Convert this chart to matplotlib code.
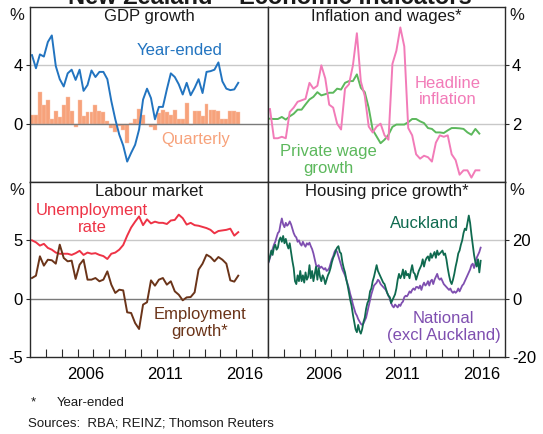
import numpy as np
import pandas as pd
import matplotlib
matplotlib.use('Agg')
import matplotlib.pyplot as plt

plt.rcParams['font.family'] = ['Liberation Sans', 'DejaVu Sans']

# gdp growth, quarterly 2003Q1 - 2016Q1
gdp_quarters = pd.period_range('2003Q1', '2016Q1', freq='Q')
gdp_year_ended = [4.7, 3.8, 4.75, 4.6, 5.6, 6.05, 3.95, 3.05, 2.55, 3.45,
                  3.7, 3.0, 3.7, 2.25, 2.65, 3.65, 3.2, 3.55, 3.55, 3.05,
                  1.55, 0.3, -0.75, -1.5, -2.6, -2.0, -1.45, -0.4, 1.65, 2.4,
                  1.75, 0.3, 1.15, 1.15, 2.35, 3.45, 3.2, 2.7, 2.0, 2.8,
                  1.95, 2.45, 3.05, 2.1, 3.55, 3.6, 3.7, 4.2, 2.9, 2.4,
                  2.3, 2.35, 2.8]
gdp_quarterly = [0.6, 0.6, 2.15, 1.25, 1.6, 0.35, 0.9, 0.45, 1.25, 1.8,
                 0.85, -0.25, 1.6, 0.5, 0.8, 0.8, 1.25, 0.85, 0.8, 0.2,
                 -0.3, -0.6, -0.15, -0.4, -1.3, 0.05, 0.35, 1.0, 0.6, -0.05,
                 -0.25, -0.4, 0.75, 0.95, 0.8, 0.6, 0.95, 0.3, 0.35, 1.4,
                 -0.1, 0.85, 0.85, 0.5, 1.35, 0.95, 0.95, 0.9, 0.3, 0.35,
                 0.9, 0.85, 0.8]

# inflation and wages, year-ended, 2003Q1 - 2016Q2
infl_quarters = pd.period_range('2003Q1', '2016Q2', freq='Q')
headline_inflation = [2.5, 1.5, 1.5, 1.55, 1.5, 2.4, 2.55, 2.75, 2.8, 2.85,
                      3.4, 3.2, 3.3, 4.0, 3.55, 2.65, 2.55, 2.0, 1.8, 3.2,
                      3.35, 4.0, 5.1, 3.45, 2.95, 1.9, 1.7, 1.9, 2.0, 1.6,
                      1.45, 4.05, 4.5, 5.3, 4.65, 1.85, 1.6, 0.95, 0.8, 0.9,
                      0.85, 0.7, 1.35, 1.6, 1.55, 1.6, 0.95, 0.75, 0.25, 0.4,
                      0.4, 0.15, 0.4, 0.4]
private_wages = [2.17, 2.16, 2.16, 2.23, 2.14, 2.25, 2.34, 2.48, 2.48, 2.66,
                 2.83, 2.92, 3.08, 2.97, 3.01, 3.06, 3.06, 3.2, 3.17, 3.4,
                 3.46, 3.46, 3.69, 3.23, 3.08, 2.54, 1.79, 1.56, 1.33, 1.45,
                 1.62, 1.89, 1.97, 1.97, 1.97, 2.05, 2.16, 2.16, 2.08, 2.02,
                 1.85, 1.82, 1.7, 1.7, 1.68, 1.77, 1.85, 1.85, 1.84, 1.82,
                 1.7, 1.62, 1.82, 1.66]

# labour market, 2003Q1 - 2016Q1
lab_quarters = pd.period_range('2003Q1', '2016Q1', freq='Q')
unemployment = [5.0, 4.83, 4.55, 4.7, 4.35, 4.2, 3.95, 3.85, 3.85, 3.85,
                3.75, 3.9, 4.1, 3.75, 3.95, 3.85, 3.9, 3.75, 3.65, 3.4,
                3.85, 3.95, 4.2, 4.6, 5.4, 6.1, 6.6, 7.05, 6.3, 6.8,
                6.45, 6.6, 6.5, 6.5, 6.4, 6.7, 6.75, 7.2, 6.9, 6.35,
                6.5, 6.3, 6.25, 6.15, 6.05, 5.9, 5.6, 5.8, 5.85, 5.9,
                6.0, 5.4, 5.7]
employment_growth = [1.77, 1.97, 3.63, 2.83, 3.34, 3.29, 3.0, 4.63, 3.49, 3.2,
                     3.26, 1.69, 2.91, 3.34, 1.63, 1.63, 1.77, 1.49, 1.63, 2.34,
                     1.2, 0.49, 0.77, 0.71, -1.17, -1.23, -2.09, -2.6, -0.51, -0.31,
                     1.57, 1.11, 1.63, 1.77, 1.2, 1.49, 0.63, 0.34, -0.14, 0.11,
                     0.14, 0.54, 2.49, 3.0, 3.77, 3.57, 3.2, 3.57, 3.34, 3.0,
                     1.57, 1.46, 1.97]

# housing price growth, year-ended, monthly Jan 2003 - Jun 2016
house_months = pd.period_range('2003-01', '2016-06', freq='M')
auckland = [12.8, 14.5, 16.5, 15.0, 17.5, 18.5, 16.8, 17.5, 20.0, 21.0,
            19.5, 21.5, 19.0, 20.5, 18.5, 17.2, 19.0, 16.0, 13.0, 10.5,
            6.0, 5.0, 8.0, 6.0, 9.5, 6.0, 8.0, 5.5, 9.0, 6.5,
            7.5, 11.5, 7.0, 9.5, 6.0, 8.5, 11.0, 6.5, 10.5, 7.5,
            6.0, 8.0, 7.0, 5.0, 6.5, 8.0, 9.0, 10.5, 12.5, 14.0,
            15.0, 16.5, 17.5, 18.0, 16.0, 15.5, 12.5, 10.5, 9.0, 6.5,
            4.5, 2.0, -0.5, -2.5, -5.5, -8.0, -10.5, -11.5, -9.0, -11.0,
            -12.0, -10.5, -8.0, -6.5, -3.5, -1.5, -0.5, 2.5, 3.5, 6.0,
            7.5, 9.5, 11.5, 9.5, 8.5, 7.5, 6.5, 5.5, 5.0, 3.5,
            2.0, 1.0, 0.5, -1.5, -0.5, 0.5, 1.5, 3.5, 6.5, 8.5,
            7.0, 8.0, 10.0, 7.0, 9.5, 8.0, 8.5, 7.0, 9.5, 11.5,
            9.0, 8.5, 6.5, 8.0, 9.5, 10.5, 11.5, 13.5, 11.0, 13.0,
            14.0, 14.5, 13.0, 15.5, 14.0, 15.0, 16.0, 14.0, 16.5, 15.0,
            15.5, 16.0, 16.5, 15.0, 15.5, 13.5, 10.5, 8.0, 6.0, 5.0,
            6.5, 8.5, 11.0, 13.0, 15.5, 16.5, 18.5, 20.0, 22.5, 24.0,
            23.5, 26.0, 28.5, 26.0, 22.0, 18.5, 15.0, 12.5, 11.0, 13.5,
            9.0, 13.0]
national_ex_akl = [12.5, 14.0, 15.5, 17.0, 18.5, 19.5, 21.0, 22.5, 23.0, 25.5,
                   27.5, 25.5, 24.5, 26.0, 25.0, 25.5, 26.5, 25.5, 24.0, 22.5,
                   21.5, 21.0, 19.5, 20.0, 18.8, 18.2, 19.5, 18.5, 17.8, 19.0,
                   18.5, 19.2, 18.0, 17.0, 15.5, 13.5, 11.5, 11.0, 11.5, 10.5,
                   11.0, 10.5, 10.0, 10.5, 9.5, 9.8, 10.5, 12.0, 13.5, 14.5,
                   16.0, 16.8, 16.0, 14.5, 13.0, 11.5, 10.0, 9.0, 8.0, 6.5,
                   5.0, 3.5, 1.5, 0.0, -2.0, -3.5, -5.0, -5.8, -7.0, -7.8,
                   -8.6, -9.0, -8.5, -7.5, -6.5, -4.5, -2.5, -0.5, 1.5, 3.0,
                   4.5, 5.0, 5.5, 6.5, 6.0, 5.0, 4.5, 4.0, 3.5, 3.0,
                   2.0, 1.0, 0.0, -1.5, -2.5, -3.0, -2.0, -2.5, -3.0, -2.0,
                   -2.5, -1.5, -1.0, 0.5, 1.0, 0.8, 1.5, 2.5, 2.0, 3.0,
                   3.5, 3.0, 4.0, 4.0, 3.5, 4.5, 3.0, 4.5, 5.5, 4.5,
                   5.0, 6.0, 4.5, 6.0, 6.5, 5.0, 6.5, 7.5, 8.5, 7.0,
                   6.5, 7.0, 6.0, 5.0, 4.5, 4.0, 3.5, 3.0, 3.5, 2.5,
                   2.0, 2.5, 2.0, 2.5, 3.5, 2.5, 3.5, 4.5, 5.0, 6.0,
                   7.0, 8.0, 9.0, 10.0, 11.5, 12.0, 10.5, 12.0, 14.0, 15.0,
                   16.0, 17.5]


def qtr_to_year(periods):
    return periods.year + (periods.quarter - 0.5) / 4


def month_to_year(periods):
    return periods.year + (periods.month - 0.5) / 12


W, H = 543, 434
fig = plt.figure(figsize=(W / 100, H / 100), dpi=100)


def px_axes(x0, y0, x1, y1):
    # axes from pixel box (top-left origin)
    return fig.add_axes([x0 / W, 1 - y1 / H, (x1 - x0) / W, (y1 - y0) / H])


ax_gdp = px_axes(30, 7, 268, 182)
ax_inf = px_axes(268, 7, 505, 182)
ax_lab = px_axes(30, 182, 268, 357)
ax_hou = px_axes(268, 182, 505, 357)

FS = 12
grid_light = '#c8c8c8'
grid_zero = '#7a7a7a'
frame = '#2a2a2a'


def style_panel(ax, ylim, gridlines, labelled, side, bottom, title):
    ax.set_xlim(2003, 2018)
    ax.set_ylim(*ylim)
    for s in ax.spines.values():
        s.set_color(frame)
        s.set_linewidth(1.0)
        s.set_zorder(5)
    for g in gridlines:
        ax.axhline(g, color=grid_zero if g == 0 else grid_light, lw=1.0,
                   zorder=2 if g == 0 else 0.5)
    ax.set_yticks(labelled)
    ax.set_yticklabels([str(v) for v in labelled])
    if side == 'right':
        ax.yaxis.tick_right()
    ax.tick_params(axis='y', length=3, width=0.8, color=frame, pad=2, labelsize=FS)
    if bottom:
        ax.set_xticks(range(2004, 2018))
        ax.set_xticklabels([])
        ax.set_xticks([2006.5, 2011.5, 2016.5], minor=True)
        ax.set_xticklabels(['2006', '2011', '2016'], minor=True)
        ax.tick_params(axis='x', which='major', direction='in', length=6,
                       width=0.8, color=frame)
        ax.tick_params(axis='x', which='minor', length=0, pad=7, labelsize=FS)
    else:
        ax.set_xticks([])
    ax.text(0.5, 0.943, title, transform=ax.transAxes, ha='center', va='center',
            fontsize=FS, color='#1a1a1a', zorder=6)


# gdp panel
gx = qtr_to_year(gdp_quarters)
ax_gdp.bar(gx, gdp_quarterly, width=0.25, color='#f7a27b', edgecolor='#fbc7ae',
           linewidth=0.3, zorder=1)
ax_gdp.plot(gx, gdp_year_ended, color='#2274c0', lw=1.4, zorder=3)
style_panel(ax_gdp, (-4, 8), [0, 4], [0, 4], 'left', False, 'GDP growth')
ax_gdp.text(2012.45, 5.05, 'Year-ended', color='#2274c0', ha='center', va='center', fontsize=FS)
ax_gdp.text(2013.45, -1.1, 'Quarterly', color='#f7a27b', ha='center', va='center', fontsize=FS)

# inflation panel
ix = qtr_to_year(infl_quarters)
ax_inf.plot(ix, private_wages, color='#5cb85c', lw=1.4, zorder=3)
ax_inf.plot(ix, headline_inflation, color='#f27bb8', lw=1.4, zorder=3)
style_panel(ax_inf, (0, 6), [2, 4], [2, 4], 'right', False, 'Inflation and wages*')
ax_inf.text(2014.4, 3.1, 'Headline\ninflation', color='#f27bb8', ha='center', va='center',
            fontsize=FS, linespacing=1.15)
ax_inf.text(2006.8, 0.75, 'Private wage\ngrowth', color='#5cb85c', ha='center', va='center',
            fontsize=FS, linespacing=1.15)

# labour market panel
lx = qtr_to_year(lab_quarters)
ax_lab.plot(lx, unemployment, color='#ee3346', lw=1.4, zorder=3)
ax_lab.plot(lx, employment_growth, color='#6b3419', lw=1.4, zorder=3)
style_panel(ax_lab, (-5, 10), [0, 5], [-5, 0, 5], 'left', True, 'Labour market')
ax_lab.text(2006.9, 6.85, 'Unemployment\nrate', color='#ee3346', ha='center', va='center',
            fontsize=FS, linespacing=1.15)
ax_lab.text(2013.7, -2.1, 'Employment\ngrowth*', color='#6b3419', ha='center', va='center',
            fontsize=FS, linespacing=1.15)

# housing panel
hx = month_to_year(house_months)
ax_hou.plot(hx, national_ex_akl, color='#7f4fb0', lw=1.3, zorder=3)
ax_hou.plot(hx, auckland, color='#0f6a4f', lw=1.3, zorder=3)
style_panel(ax_hou, (-20, 40), [0, 20], [-20, 0, 20], 'right', True, 'Housing price growth*')
ax_hou.text(2012.9, 25.6, 'Auckland', color='#0f6a4f', ha='center', va='center', fontsize=FS)
ax_hou.text(2014.1, -9.7, 'National\n(excl Auckland)', color='#7f4fb0', ha='center', va='center',
            fontsize=FS, linespacing=1.1)

# percent signs at the top of each axis
for px, py in [(17, 16), (17, 191), (517, 16), (517, 191)]:
    fig.text(px / W, 1 - py / H, '%', ha='center', va='center', fontsize=FS, color='#1a1a1a')

# main title, mostly cropped off the top
fig.text(270 / W, 1 - 4 / H, 'New Zealand \u2013 Economic Indicators', ha='center',
         va='baseline', fontsize=17, fontweight='bold', color='#1a1a1a')

# footnotes
fig.text(33 / W, 1 - 402 / H, '*', ha='center', va='center', fontsize=9.5, color='#1a1a1a')
fig.text(57 / W, 1 - 403 / H, 'Year-ended', ha='left', va='center', fontsize=9.5, color='#1a1a1a')
fig.text(28 / W, 1 - 423 / H, 'Sources:  RBA; REINZ; Thomson Reuters', ha='left', va='center',
         fontsize=9.5, color='#1a1a1a')

fig.savefig('out.png', dpi=100)
